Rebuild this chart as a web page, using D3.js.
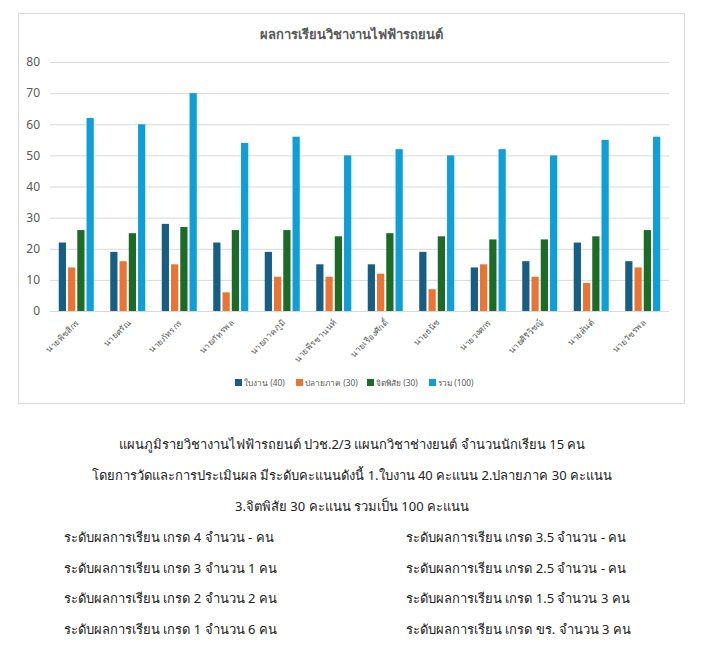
<!DOCTYPE html>
<html>
<head>
<meta charset="utf-8">
<script src="https://cdn.jsdelivr.net/npm/d3@7"></script>
<style>
    body { margin: 0; background: #fff; font-family: "Noto Sans", "DejaVu Sans", sans-serif; }
</style>
</head>
<body>
<div id="vis"></div>
<script>
const STUDENTS = [
    'นายพิชสิกร',
    'นายศรัณ',
    'นายภัทรกร',
    'นายภัทรพล',
    'นายภาคภูมิ',
    'นายพีรชานนท์',
    'นายเรืองศักดิ์',
    'นายธนัช',
    'นายวงศกร',
    'นายศิริวิชญ์',
    'นายสันต์',
    'นายวัชรพล'
]

const SERIES_NAMES = ['ใบงาน (40)', 'ปลายภาค (30)', 'จิตพิสัย (30)', 'รวม (100)']
const SERIES_COLORS = ['#175e84', '#ea7433', '#1c6b27', '#0f9fd8']

const WORKSHEET = [22, 19, 28, 22, 19, 15, 15, 19, 14, 16, 22, 16]
const FINAL_EXAM = [14, 16, 15, 6, 11, 11, 12, 7, 15, 11, 9, 14]
const ATTITUDE = [26, 25, 27, 26, 26, 24, 25, 24, 23, 23, 24, 26]
const TOTAL = [62, 60, 70, 54, 56, 50, 52, 50, 52, 50, 55, 56]

const Y_TICKS = [0, 10, 20, 30, 40, 50, 60, 70, 80]

const TITLE = 'ผลการเรียนวิชางานไฟฟ้ารถยนต์'

const NOTE_LINES = [
    'แผนภูมิรายวิชางานไฟฟ้ารถยนต์ ปวช.2/3 แผนกวิชาช่างยนต์ จำนวนนักเรียน 15 คน',
    'โดยการวัดและการประเมินผล มีระดับคะแนนดังนี้ 1.ใบงาน 40 คะแนน 2.ปลายภาค 30 คะแนน',
    '3.จิตพิสัย 30 คะแนน รวมเป็น 100 คะแนน'
]
const GRADES_LEFT = [
    'ระดับผลการเรียน เกรด 4 จำนวน - คน',
    'ระดับผลการเรียน เกรด 3 จำนวน 1 คน',
    'ระดับผลการเรียน เกรด 2 จำนวน 2 คน',
    'ระดับผลการเรียน เกรด 1 จำนวน 6 คน'
]
const GRADES_RIGHT = [
    'ระดับผลการเรียน เกรด 3.5 จำนวน - คน',
    'ระดับผลการเรียน เกรด 2.5 จำนวน - คน',
    'ระดับผลการเรียน เกรด 1.5 จำนวน 3 คน',
    'ระดับผลการเรียน เกรด ขร. จำนวน 3 คน'
]

const SERIES = [WORKSHEET, FINAL_EXAM, ATTITUDE, TOTAL]

function renderSvg() {
    return d3.select('#vis')
        .append('svg')
        .attr('width', 707)
        .attr('height', 651)
}

function renderChart(svg) {
    let plot = {left: 50, right: 669, top: 62, bottom: 311}

    // chart frame
    svg.append('rect')
        .attr('x', 18.5)
        .attr('y', 13.5)
        .attr('width', 666)
        .attr('height', 390)
        .attr('fill', '#fff')
        .attr('stroke', '#d9d9d9')

    svg.append('text')
        .attr('x', 351)
        .attr('y', 39)
        .attr('text-anchor', 'middle')
        .style('font-size', '13px')
        .style('font-weight', 'bold')
        .attr('fill', '#595959')
        .text(TITLE)

    let y = d3.scaleLinear()
        .domain([0, 80])
        .range([plot.bottom, plot.top])

    let x = d3.scaleBand()
        .domain(STUDENTS)
        .range([plot.left, plot.right])
        .paddingInner(0.32)
        .paddingOuter(0.17)

    let xx = d3.scaleBand()
        .domain(d3.range(SERIES.length))
        .range([0, x.bandwidth()])
        .paddingInner(0.22)

    // gridlines
    svg.append('g')
        .selectAll('line')
        .data(Y_TICKS)
        .enter().append('line')
        .attr('x1', plot.left)
        .attr('x2', plot.right)
        .attr('y1', d => y(d) + 0.5)
        .attr('y2', d => y(d) + 0.5)
        .attr('stroke', '#d9d9d9')
        .attr('stroke-width', 1)

    let yAxis = svg.append('g')
        .attr('transform', `translate(${plot.left - 10}, 0)`)
        .call(d3.axisLeft(y).tickValues(Y_TICKS).tickSize(0).tickPadding(0))
    yAxis.select('.domain').remove()
    yAxis.selectAll('text')
        .attr('fill', '#595959')
        .style('font-size', '12px')
        .style('font-family', '"Noto Sans", sans-serif')

    // bars
    SERIES.forEach((values, si) => {
        svg.append('g')
            .selectAll('rect')
            .data(values)
            .enter().append('rect')
            .attr('x', (d, i) => x(STUDENTS[i]) + xx(si))
            .attr('y', d => y(d))
            .attr('width', xx.bandwidth())
            .attr('height', d => y(0) - y(d))
            .attr('fill', SERIES_COLORS[si])
    })

    // x axis line
    svg.append('line')
        .attr('x1', plot.left)
        .attr('x2', plot.right)
        .attr('y1', y(0) + 0.5)
        .attr('y2', y(0) + 0.5)
        .attr('stroke', '#d9d9d9')

    let xAxis = svg.append('g')
        .attr('transform', `translate(0, ${plot.bottom})`)
        .call(d3.axisBottom(x).tickSize(0).tickPadding(0))
    xAxis.select('.domain').remove()
    xAxis.selectAll('text')
        .attr('text-anchor', 'end')
        .attr('dy', 0)
        .attr('transform', d => `translate(${x.bandwidth() / 2 - 14}, 12) rotate(-45)`)
        .attr('fill', '#595959')
        .style('font-size', '8.5px')

    // legend
    let legendX = [235, 296, 367, 429]
    let legend = svg.append('g')
        .selectAll('g')
        .data(SERIES_NAMES)
        .enter().append('g')
        .attr('transform', (d, i) => `translate(${legendX[i]}, 383)`)
    legend.append('rect')
        .attr('x', 0)
        .attr('y', -4)
        .attr('width', 7)
        .attr('height', 7)
        .attr('fill', (d, i) => SERIES_COLORS[i])
    legend.append('text')
        .attr('x', 9)
        .attr('y', 3)
        .attr('fill', '#595959')
        .style('font-size', '8.3px')
        .text(d => d)
}

function renderNotes(svg) {
    let size = '13px'

    svg.append('g')
        .selectAll('text')
        .data(NOTE_LINES)
        .enter().append('text')
        .attr('x', 352)
        .attr('y', (d, i) => 449 + i * 31)
        .attr('text-anchor', 'middle')
        .attr('fill', '#222')
        .style('font-size', size)
        .text(d => d)

    svg.append('g')
        .selectAll('text')
        .data(GRADES_LEFT)
        .enter().append('text')
        .attr('x', 64)
        .attr('y', (d, i) => 542 + i * 30.5)
        .attr('fill', '#222')
        .style('font-size', size)
        .text(d => d)

    svg.append('g')
        .selectAll('text')
        .data(GRADES_RIGHT)
        .enter().append('text')
        .attr('x', 406)
        .attr('y', (d, i) => 542 + i * 30.5)
        .attr('fill', '#222')
        .style('font-size', size)
        .text(d => d)
}

let svg = renderSvg()
renderChart(svg)
renderNotes(svg)
</script>
</body>
</html>
